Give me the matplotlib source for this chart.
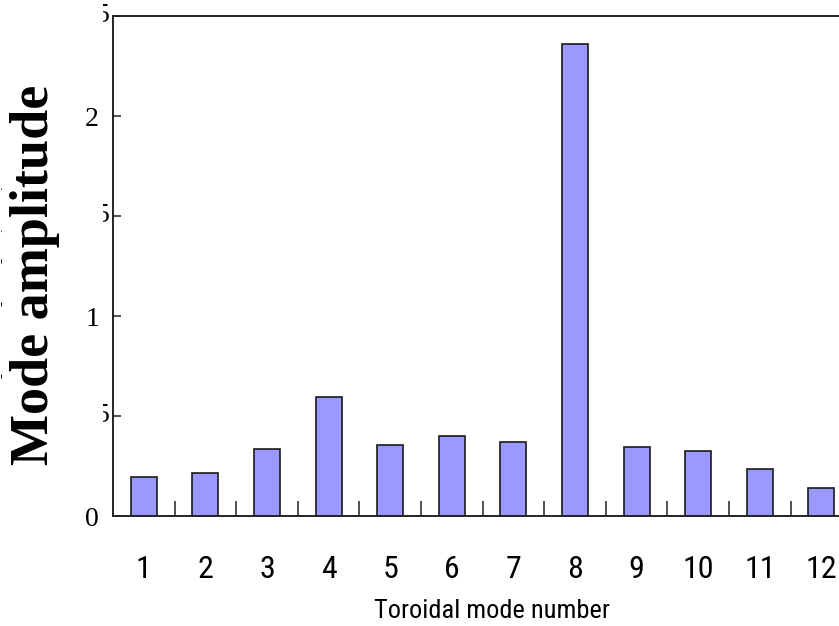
import numpy as np
import matplotlib
matplotlib.use('Agg')
from matplotlib import pyplot as plt
from matplotlib.transforms import Bbox, TransformedBbox

modes = [1, 2, 3, 4, 5, 6, 7, 8, 9, 10, 11, 12]
amplitude = [0.195, 0.215, 0.335, 0.595, 0.355, 0.40, 0.37, 2.36, 0.345, 0.325, 0.235, 0.14]
y_ticks = [0, 1, 2]
y_half = [0.5, 1.5, 2.5]

W, H = 839, 626
fig = plt.figure(figsize=(W/100, H/100), dpi=100)
# axes runs past the right edge, like the cropped original
ax = fig.add_axes([113/W, 1-516/H, 12*61.6/W, 500/H])

ax.bar(modes, amplitude, width=0.42, color='#9999ff', edgecolor='#1a1a1a', linewidth=1.2, zorder=2)
ax.set_xlim(0.5, 12.5)
ax.set_ylim(0, 2.5)

sans = ['Liberation Sans Narrow', 'DejaVu Sans Condensed', 'Roboto Condensed', 'Roboto']
serif = ['Liberation Serif', 'DejaVu Serif']

ax.set_xticks(modes)
ax.set_xticklabels([str(m) for m in modes], family=sans, fontsize=23)
ax.set_xticks(np.arange(1.5, 12, 1.0), minor=True)
ax.tick_params(axis='x', which='major', length=0, pad=28)
ax.tick_params(axis='x', which='minor', direction='in', length=11, width=1.2, color='#333333')

ax.set_yticks(y_ticks)
ax.set_yticklabels([str(v) for v in y_ticks], family=serif, fontsize=20)
ax.set_yticks(y_half, minor=True)
ax.tick_params(axis='y', which='both', direction='in', length=6, width=1.2, color='#333333', pad=10)

for s in ax.spines.values():
    s.set_linewidth(1.4)
    s.set_color('#222222')

ax.set_xlabel('Toroidal mode number', family=sans, fontsize=19)
ax.xaxis.set_label_coords(0.513, -0.165)

# half tick labels only show a sliver at the right edge
clip = TransformedBbox(Bbox([[103/W, 0], [1, 1]]), fig.transFigure)
for v in y_half:
    t = ax.text(-0.005, v, '5', transform=ax.get_yaxis_transform(), ha='right', va='center',
                family=serif, fontsize=20, clip_on=True)
    t.set_clip_box(clip)

# old label mostly hidden behind the new one
fig.text(2/W, 1-302/H, 'Mode amplitude (a.u.)', rotation=90, ha='left', va='center',
         family=serif, fontsize=19.5)
fig.text(35/W, 1-275/H, 'Mode amplitude', rotation=90, ha='center', va='center',
         family=serif, fontsize=39, fontweight='bold',
         bbox=dict(facecolor='white', edgecolor='none', pad=6))

fig.savefig('out.png', dpi=100)
